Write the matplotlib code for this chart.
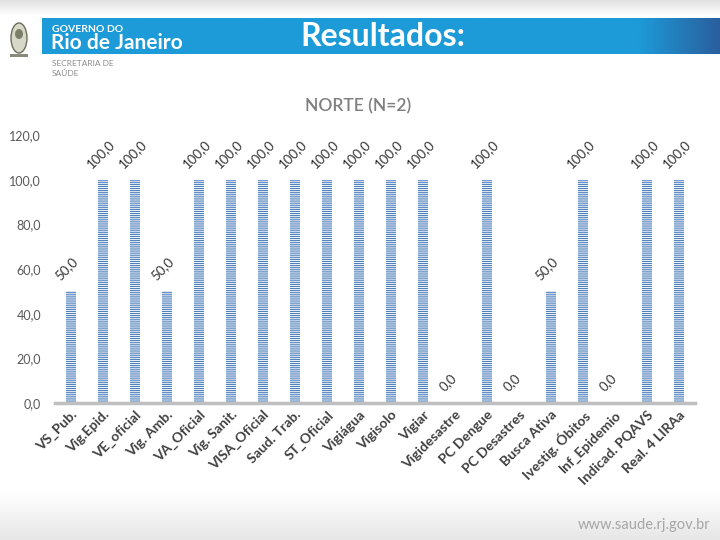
import matplotlib
matplotlib.use("Agg")
import matplotlib.pyplot as plt
import numpy as np
from matplotlib.patches import Rectangle, Ellipse

plt.rcParams['font.family'] = ['Lato', 'DejaVu Sans']

categories = ["VS_Pub.", "Vig.Epid.", "VE_oficial", "Vig. Amb.", "VA_Oficial",
              "Vig. Sanit.", "VISA_Oficial", "Saud. Trab.", "ST_Oficial", "Vigiágua",
              "Vigisolo", "Vigiar", "Vigidesastre", "PC Dengue", "PC Desastres",
              "Busca Ativa", "Ivestig. Óbitos", "Inf_Epidemio", "Indicad. PQAVS", "Real. 4 LIRAa"]
values = [50, 100, 100, 50, 100, 100, 100, 100, 100, 100,
          100, 100, 0, 100, 0, 50, 100, 0, 100, 100]
yticks = [0, 20, 40, 60, 80, 100, 120]
title = "NORTE (N=2)"
header = "Resultados:"

bar_color = '#4f81bd'
plt.rcParams['hatch.color'] = bar_color
plt.rcParams['hatch.linewidth'] = 0.85

fig = plt.figure(figsize=(7.2, 5.4), dpi=100)

# background decorations
bg = fig.add_axes([0, 0, 1, 1])
bg.set_xlim(0, 720); bg.set_ylim(540, 0); bg.axis('off')
top = np.linspace(0.88, 1.0, 50).reshape(-1, 1)
bg.imshow(top, cmap='gray', vmin=0, vmax=1, extent=[0, 720, 16, 0], aspect='auto')
bot = np.linspace(1.0, 0.9, 50).reshape(-1, 1)
bg.imshow(bot, cmap='gray', vmin=0, vmax=1, extent=[0, 720, 540, 490], aspect='auto')
# banner
c1 = np.array(matplotlib.colors.to_rgb('#1d9bd8'))
c2 = np.array(matplotlib.colors.to_rgb('#2a5f9e'))
t = np.linspace(0, 1, 300)
w = np.clip((t - 0.88) / 0.12, 0, 1)
grad = (c1[None, :] * (1 - w[:, None]) + c2[None, :] * w[:, None])[None, :, :]
bg.imshow(grad, extent=[42, 720, 54, 18], aspect='auto')
bg.text(52, 29, "GOVERNO DO", color='white', fontsize=7.5, fontweight='bold', va='center')
bg.text(51, 43, "Rio de Janeiro", color='white', fontsize=15, fontweight='bold', va='center')
bg.text(383, 36, header, color='white', fontsize=23, fontweight='bold', ha='center', va='center')
bg.text(52, 63, "SECRETARIA DE", color='#8c8c8c', fontsize=6, va='center')
bg.text(52, 73, "SAÚDE", color='#8c8c8c', fontsize=6, va='center')
# emblem
bg.add_patch(Ellipse((19, 38), 16, 30, facecolor='#d8d8c8', edgecolor='#6d6d5a', lw=1))
bg.add_patch(Ellipse((19, 34), 8, 10, facecolor='#7a7f6a', edgecolor='none'))
bg.add_patch(Rectangle((10, 54), 18, 3, facecolor='#8a8a7a', edgecolor='none'))
bg.text(710, 525, "www.saude.rj.gov.br", color='#a6a6a6', fontsize=10.5, ha='right', va='center')

fig.text(358 / 720, 1 - 106 / 540, title, color='#7f7f7f', fontsize=12.5, fontweight='semibold',
         ha='center', va='center')

ax = fig.add_axes([55 / 720, 1 - 403 / 540, 640 / 720, 268 / 540])
ax.patch.set_alpha(0)
x = np.arange(len(categories))
ax.bar(x, values, width=0.34, color='white', edgecolor=bar_color, hatch='-' * 8, linewidth=0)
ax.set_xlim(-0.5, len(categories) - 0.5)
ax.set_ylim(0, 120)
ax.set_yticks(yticks)
ax.set_yticklabels([f"{v:.1f}".replace('.', ',') for v in yticks], color='#595959', fontsize=9)
ax.set_xticks(x)
ax.set_xticklabels(categories, rotation=45, ha='right', rotation_mode='anchor',
                   fontsize=10, fontweight='bold', color='#404040')
ax.tick_params(axis='both', length=0)
ax.tick_params(axis='y', pad=10)
ax.tick_params(axis='x', pad=4)
for s in ['top', 'right', 'left']:
    ax.spines[s].set_visible(False)
ax.spines['bottom'].set_color('#bfbfbf')
ax.spines['bottom'].set_linewidth(2.5)

for xi, v in zip(x, values):
    ax.annotate(f"{v:.1f}".replace('.', ','), (xi, v), xytext=(-7, 7), textcoords='offset points',
                rotation=45, ha='left', va='bottom', rotation_mode='anchor',
                fontsize=9.5, color='#333333')

fig.savefig('out.png', dpi=100)
